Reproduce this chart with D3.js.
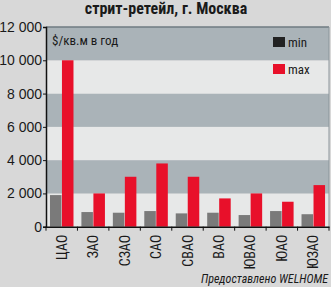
<!DOCTYPE html>
<html><head><meta charset="utf-8">
<script src="https://cdn.jsdelivr.net/npm/d3@7"></script>
<style>
html,body{margin:0;padding:0;background:#d8d8d8;}
svg{display:block;}
text{font-family:"Liberation Sans Narrow","Arial Narrow","Roboto Condensed","DejaVu Sans Condensed",sans-serif;}
</style></head>
<body>
<svg id="c" width="331" height="287"></svg>
<script>
const categories = ["ЦАО","ЗАО","СЗАО","САО","СВАО","ВАО","ЮВАО","ЮАО","ЮЗАО"];
const minValues = [1900, 880, 840, 940, 800, 840, 700, 940, 750];
const maxValues = [10000, 2000, 3000, 3800, 3000, 1700, 2000, 1500, 2500];
const yTicks = [0, 2000, 4000, 6000, 8000, 10000, 12000];
const seriesNames = ["min", "max"];
const seriesColors = ["#222222", "#e8102a"];
const barColors = ["#7a7a7a", "#e8102a"];

(function(){
const svg = d3.select("#c");
const pL = 46, pR = 329, pT = 27, pB = 226.7;
const x = d3.scaleBand().domain(categories).range([pL, pR]).paddingInner(0).paddingOuter(0);
const y = d3.scaleLinear().domain([0, 12000]).range([pB, pT]);
const sub = d3.scaleBand().domain(seriesNames).range([0, x.bandwidth()]).paddingInner(0.04).paddingOuter(0.33);

svg.append("rect").attr("width",331).attr("height",287).attr("fill","#d8d8d8");

for (let i = 0; i < yTicks.length - 1; i++) {
  svg.append("rect")
    .attr("x", pL).attr("width", pR - pL)
    .attr("y", y(yTicks[i+1])).attr("height", y(yTicks[i]) - y(yTicks[i+1]))
    .attr("fill", i % 2 === 0 ? "#e7e8e8" : "#aab3b8");
}
svg.append("line").attr("x1", pL).attr("x2", pR).attr("y1", pT).attr("y2", pT).attr("stroke", "#6f7b82").attr("stroke-width", 1.5);
svg.append("line").attr("x1", pR).attr("x2", pR).attr("y1", pT).attr("y2", pB).attr("stroke", "#8a949a").attr("stroke-width", 1);

const data = categories.map((c, i) => ({c, vals: [minValues[i], maxValues[i]]}));
const g = svg.append("g");
data.forEach(d => {
  d.vals.forEach((v, j) => {
    g.append("rect")
      .attr("x", x(d.c) + sub(seriesNames[j]))
      .attr("width", sub.bandwidth())
      .attr("y", y(v))
      .attr("height", y(0) - y(v))
      .attr("fill", barColors[j]);
  });
});

const yAxis = svg.append("g").attr("transform", `translate(${pL},0)`)
  .call(d3.axisLeft(y).tickValues(yTicks).tickSize(3).tickFormat(d => d3.format(",")(d).replace(/,/g, " ")));
yAxis.select(".domain").attr("stroke", "#111").attr("stroke-width", 1.5);
yAxis.selectAll(".tick line").attr("stroke", "#111");
yAxis.selectAll(".tick text").attr("font-size", 14).attr("fill", "#1a1a1a").attr("x", -4)
  .style("font-family", '"Liberation Sans Narrow","Arial Narrow",sans-serif');

const xAxis = svg.append("g").attr("transform", `translate(0,${pB})`)
  .call(d3.axisBottom(x).tickSize(0).tickFormat(""));
xAxis.select(".domain").attr("stroke", "#111").attr("stroke-width", 1.5);
const sepPositions = categories.map(c => x(c)).concat([pR]);
xAxis.selectAll(".sep").data(sepPositions).enter().append("line")
  .attr("x1", d => d).attr("x2", d => d).attr("y1", 0).attr("y2", 4).attr("stroke", "#111");
xAxis.selectAll(".lbl").data(categories).enter().append("text")
  .attr("transform", d => `translate(${x(d) + x.bandwidth()/2 + 5},8) rotate(-90)`)
  .attr("text-anchor", "end").attr("font-size", 14).attr("fill", "#1a1a1a")
  .text(d => d);

svg.append("text").attr("x", 166).attr("y", 14).attr("text-anchor", "middle")
  .attr("font-size", 16).attr("font-weight", "bold").attr("fill", "#1a1a1a")
  .text("стрит-ретейл, г. Москва");

svg.append("text").attr("x", 52).attr("y", 45).attr("font-size", 13).attr("fill", "#1a1a1a")
  .text("$/кв.м в год");

seriesNames.forEach((s, i) => {
  const ly = 41 + i * 27;
  svg.append("rect").attr("x", 273).attr("y", ly - 4).attr("width", 12).attr("height", 10).attr("fill", seriesColors[i]);
  svg.append("text").attr("x", 288).attr("y", ly + 6).attr("font-size", 13).attr("fill", "#1a1a1a").text(s);
});

svg.append("text").attr("x", 328).attr("y", 283).attr("text-anchor", "end")
  .attr("font-size", 12).attr("font-style", "italic").attr("fill", "#1a1a1a")
  .text("Предоставлено WELHOME");
})();
</script>
</body></html>
